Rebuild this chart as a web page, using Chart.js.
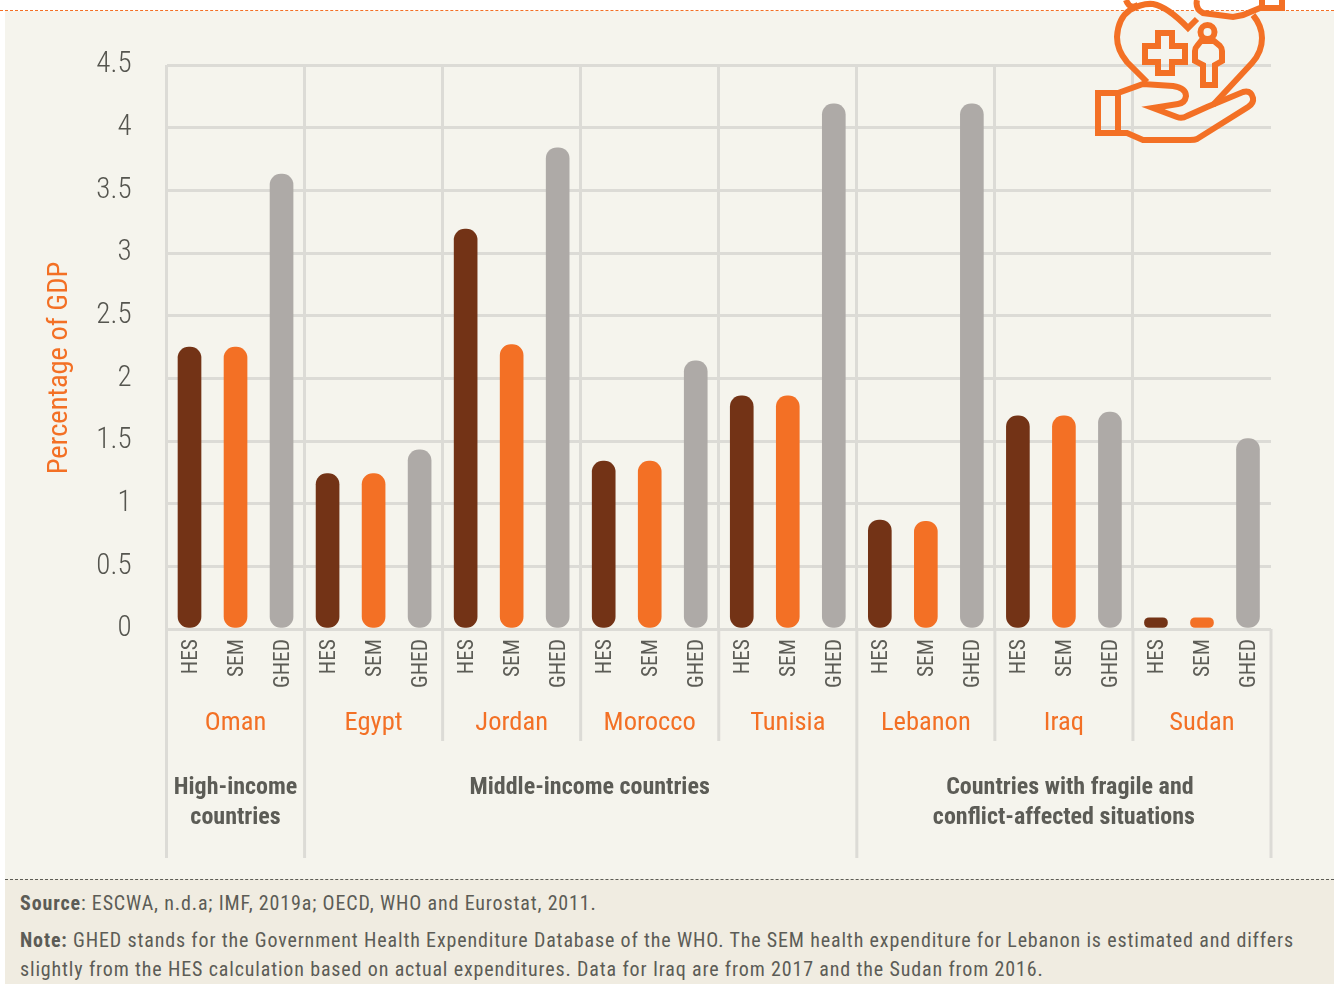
<!DOCTYPE html>
<html lang="en">
  <head>
    <meta charset="UTF-8" />
    <title>Health expenditure as percentage of GDP</title>
    <style>
      html, body { margin: 0; padding: 0; background: #fff; }
      body { position: relative; width: 1334px; height: 984px; overflow: hidden; font-family: "Roboto Condensed", Roboto, sans-serif; }
      #panel { position: absolute; left: 5px; top: 11px; right: 0; height: 868px; background: #f5f4ed; }
      #topline { position: absolute; left: 0; right: 0; top: 10px; border-top: 1px dashed #f37025; }
      #foot { position: absolute; left: 5px; right: 0; top: 879px; bottom: 0; background: #f0ece1; border-top: 1px dashed #5c5c56; color: #5c5c56; font-size: 20px; letter-spacing: 0.85px; }
      #foot p { position: absolute; left: 15px; margin: 0; white-space: nowrap; line-height: 29px; }
      #wrap { position: absolute; left: 0; top: 0; width: 1334px; height: 984px; }
      #icon { position: absolute; left: 0; top: 0; }
    </style>
  </head>

  <body>
    <div id="panel"></div>
    <div id="topline"></div>
    <div id="foot">
      <p style="top: 9px"><b>Source</b>: ESCWA, n.d.a; IMF, 2019a; OECD, WHO and Eurostat, 2011.</p>
      <p style="top: 46px"><b>Note:</b> GHED stands for the Government Health Expenditure Database of the WHO. The SEM health expenditure for Lebanon is estimated and differs<br />slightly from the HES calculation based on actual expenditures. Data for Iraq are from 2017 and the Sudan from 2016.</p>
    </div>
    <div id="wrap"><canvas id="myChart" width="1334" height="984"></canvas></div>

    <svg id="icon" width="1334" height="984" fill="none" stroke="#f37025" stroke-width="6">
      <path d="M1147 82 L1127 62 Q1117 50 1117 37 Q1118 18 1130 10 Q1142 3 1153 4 Q1168 7 1188 28 L1197 19" />
      <path d="M1253 15 Q1262 26 1262 38 Q1262 52 1252 63 L1213 105" />
      <path d="M1126 0 Q1128 6 1133 7 L1138 5 M1197 0 Q1195 9 1203 13 L1233 17 L1243 15 L1260 8 L1282 8 L1282 0 M1262 8 L1262 0" />
      <path d="M1118 93 L1143 84 L1173 86 Q1186 88 1186 96 Q1185 103 1178 104 L1153 108 L1177 117 Q1182 119 1187 116 L1207 107 L1243 92 Q1251 90 1253 98 Q1254 103 1248 107 L1197 139 Q1195 140 1190 140 L1143 140 L1127 133 L1098 133 L1098 93 L1118 93 L1118 133" />
      <path d="M1158 33 H1172 V46 H1185 V62 H1172 V73 H1158 V62 H1145 V46 H1158 Z" />
      <circle cx="1207.5" cy="32" r="7" />
      <path d="M1201 41 L1197 46 Q1195 48 1195 51 V61 L1203 65 V85 H1215 V65 L1222 61 V51 Q1222 48 1220 46 L1214 41 Z" />
    </svg>

    <script src="https://cdn.jsdelivr.net/npm/chart.js"></script>
    <script>
      const countries = ["Oman", "Egypt", "Jordan", "Morocco", "Tunisia", "Lebanon", "Iraq", "Sudan"];
      const measures = ["HES", "SEM", "GHED"];
      const yTicks = [0, 0.5, 1, 1.5, 2, 2.5, 3, 3.5, 4, 4.5];

      const hes = [2.25, 1.24, 3.19, 1.34, 1.86, 0.87, 1.70, 0.09];
      const sem = [2.25, 1.24, 2.27, 1.34, 1.86, 0.86, 1.70, 0.09];
      const ghed = [3.63, 1.43, 3.84, 2.14, 4.19, 4.19, 1.73, 1.52];

      // income groups: first and last country of each, labels are not quite centred in the original
      const groups = [
        { from: 0, to: 0, lines: ["High-income", "countries"], shift: [0, 0] },
        { from: 1, to: 4, lines: ["Middle-income countries"], shift: [9] },
        { from: 5, to: 7, lines: ["Countries with fragile and", "conflict-affected situations"], shift: [6, 0] },
      ];

      const colors = ["#733316", "#f37025", "#aeaaa7"];
      const gridColor = "#dcdbd6";
      const textColor = "#5c5c56";
      const narrow = "'Roboto Condensed', Roboto, sans-serif";

      const labels = [];
      const values = [];
      const barColors = [];
      countries.forEach((c, i) => {
        [hes[i], sem[i], ghed[i]].forEach((v, j) => {
          labels.push(measures[j]);
          values.push(v);
          barColors.push(colors[j]);
        });
      });

      // lines below the axis, the country / income group names and the y title
      const belowAxis = {
        id: "belowAxis",
        afterDraw(chart) {
          const x = chart.scales.x;
          const ctx = chart.ctx;
          const edge = (c) => x.getPixelForValue(c * 3) - (x.getPixelForValue(1) - x.getPixelForValue(0)) / 2;
          const groupEdges = [0];
          groups.forEach((g) => groupEdges.push(g.to + 1));

          ctx.save();
          ctx.strokeStyle = gridColor;
          ctx.lineWidth = 3;
          for (let c = 0; c <= countries.length; c++) {
            ctx.beginPath();
            ctx.moveTo(edge(c), x.top);
            ctx.lineTo(edge(c), groupEdges.includes(c) ? 858 : 741);
            ctx.stroke();
          }

          ctx.textAlign = "center";
          ctx.textBaseline = "middle";
          ctx.fillStyle = colors[1];
          ctx.font = "26.5px " + narrow;
          countries.forEach((c, i) => {
            ctx.fillText(c, (edge(i) + edge(i + 1)) / 2, 723);
          });

          ctx.fillStyle = textColor;
          ctx.font = "bold 24px " + narrow;
          groups.forEach((g) => {
            const mid = (edge(g.from) + edge(g.to + 1)) / 2;
            g.lines.forEach((line, n) => ctx.fillText(line, mid + g.shift[n], 788 + n * 30));
          });

          ctx.translate(60, 368);
          ctx.rotate(-Math.PI / 2);
          ctx.fillStyle = colors[1];
          ctx.font = "28.5px " + narrow;
          ctx.fillText("Percentage of GDP", 0, 0);
          ctx.restore();
        },
      };

      new Chart(document.getElementById("myChart"), {
        type: "bar",
        plugins: [belowAxis],
        data: {
          labels: labels,
          datasets: [
            {
              label: "Percentage of GDP",
              data: values,
              backgroundColor: barColors,
              barThickness: 23,
              borderRadius: 11,
              borderSkipped: false,
            },
          ],
        },
        options: {
          responsive: false,
          animation: false,
          layout: { padding: { top: 65, right: 63, left: 0, bottom: 0 } },
          plugins: { legend: { display: false }, tooltip: { enabled: false } },
          scales: {
            y: {
              min: 0,
              max: 4.5,
              afterFit: (s) => { s.width = 166.5; },
              afterBuildTicks: (s) => { s.ticks = yTicks.map((v) => ({ value: v })); },
              border: { display: false },
              grid: { color: gridColor, lineWidth: 3, drawTicks: false },
              ticks: {
                color: "#55554f",
                padding: 35,
                font: { family: narrow, size: 29, weight: "300" },
                callback: (v) => String(v),
              },
            },
            x: {
              afterFit: (s) => { s.height = 355; },
              border: { display: false },
              grid: {
                color: (c) => (c.index % 3 === 0 ? gridColor : "transparent"),
                lineWidth: 3,
                drawTicks: false,
              },
              ticks: {
                color: textColor,
                autoSkip: false,
                minRotation: 90,
                maxRotation: 90,
                padding: 10,
                labelOffset: 2,
                font: { family: narrow, size: 21.5 },
              },
            },
          },
        },
      });
    </script>
  </body>
</html>
